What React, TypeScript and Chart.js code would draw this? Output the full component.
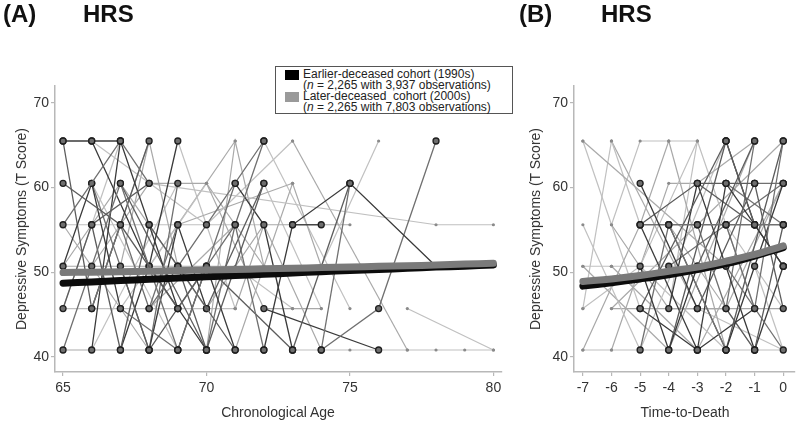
import React, { useEffect, useRef } from "react";
import { Chart, registerables } from "chart.js";

Chart.register(...registerables);

// ---------- data ----------
const scoreTicks = [40, 50, 60, 70];
const ageTicks = [65, 70, 75, 80];
const ttdTicks = [-7, -6, -5, -4, -3, -2, -1, 0];

const ageTrendX = [65, 66, 67, 68, 69, 70, 71, 72, 73, 74, 75, 76, 77, 78, 79, 80];
const ageTrendEarlier = [48.7, 48.85, 49.0, 49.15, 49.3, 49.45, 49.6, 49.75, 49.9, 50.05, 50.2, 50.3, 50.45, 50.6, 50.7, 50.85];
const ageTrendLater = [49.95, 50.0, 50.05, 50.1, 50.2, 50.25, 50.3, 50.4, 50.45, 50.55, 50.6, 50.7, 50.75, 50.85, 50.95, 51.05];

const ttdTrendX = [-7, -6, -5, -4, -3, -2, -1, 0];
const ttdTrendEarlier = [48.35, 48.75, 49.2, 49.7, 50.3, 51.0, 51.9, 52.9];
const ttdTrendLater = [48.9, 49.2, 49.6, 50.1, 50.6, 51.3, 52.1, 53.1];

type Path = [number, number][];

const agePathsEarlier: Path[] = [
  [[65, 65.5], [66, 65.5], [67, 65.5]],
  [[65, 60.5], [67, 55.6], [69, 45.7]],
  [[65, 55.6], [67, 65.5], [68, 60.5]],
  [[65, 50.7], [66, 60.5], [67, 45.7]],
  [[65, 45.7], [66, 55.6], [68, 60.5]],
  [[65, 40.8], [66, 50.7], [67, 60.5], [69, 40.8]],
  [[66, 65.5], [68, 50.7], [70, 40.8]],
  [[66, 55.6], [67, 40.8], [68, 55.6]],
  [[66, 45.7], [67, 55.6], [68, 45.7], [69, 55.6]],
  [[66, 40.8], [67, 65.5], [69, 45.7]],
  [[67, 50.7], [68, 40.8], [70, 50.7]],
  [[67, 45.7], [69, 40.8], [71, 60.5]],
  [[67, 40.8], [68, 50.7], [69, 65.5]],
  [[68, 55.6], [69, 50.7], [71, 40.8]],
  [[68, 45.7], [70, 55.6], [72, 65.5]],
  [[68, 40.8], [69, 55.6], [70, 45.7]],
  [[69, 50.7], [70, 40.8], [72, 60.5]],
  [[69, 45.7], [71, 55.6], [72, 40.8]],
  [[69, 40.8], [70, 50.7], [71, 40.8]],
  [[70, 45.7], [72, 60.5]],
  [[70, 40.8], [71, 55.6], [72, 65.5]],
  [[72, 40.8], [73, 55.6], [75, 60.5], [78, 50.7]],
  [[73, 40.8], [75, 60.5]],
  [[74, 40.8], [75, 60.5]],
  [[73, 55.6], [74, 55.6]],
  [[70, 50.7], [73, 40.8]],
  [[74, 40.8], [76, 45.7], [78, 65.5]],
  [[72, 45.7], [76, 40.8]],
  [[65, 65.5], [66, 45.7], [68, 65.5]],
  [[66, 60.5], [68, 40.8], [69, 60.5]],
  [[71, 60.5], [72, 55.6], [73, 40.8]],
  [[67, 60.5], [70, 40.8]],
];

const agePathsLater: Path[] = [
  [[66, 45.7], [68, 65.5], [69, 50.7]],
  [[66, 65.5], [70, 55.6]],
  [[66, 50.7], [68, 60.5], [70, 60.5], [72, 45.7]],
  [[68, 60.5], [78, 55.6], [80, 55.6]],
  [[70, 40.8], [71, 65.5], [72, 50.7]],
  [[70, 55.6], [73, 65.5]],
  [[69, 55.6], [73, 60.5]],
  [[74, 50.7], [76, 65.5]],
  [[72, 45.7], [73, 45.7], [74, 45.7]],
  [[77, 45.7], [80, 40.8]],
  [[73, 65.5], [77, 40.8]],
  [[73, 40.8], [75, 40.8], [77, 40.8], [78, 40.8], [79, 40.8], [80, 40.8]],
  [[71, 45.7], [72, 55.6], [75, 55.6]],
  [[65, 45.7], [67, 65.5]],
  [[65, 55.6], [68, 40.8]],
  [[66, 60.5], [69, 40.8]],
  [[67, 50.7], [68, 65.5]],
  [[67, 45.7], [70, 60.5]],
  [[68, 50.7], [71, 65.5]],
  [[69, 65.5], [71, 45.7]],
  [[70, 45.7], [72, 55.6], [74, 40.8]],
  [[71, 50.7], [73, 45.7]],
  [[71, 40.8], [73, 60.5], [74, 50.7]],
  [[72, 60.5], [74, 45.7]],
  [[65, 40.8], [67, 40.8], [70, 40.8], [72, 40.8]],
  [[65, 45.7], [69, 45.7], [71, 45.7]],
  [[65, 50.7], [70, 50.7], [72, 50.7]],
  [[65, 55.6], [70, 55.6], [72, 55.6]],
  [[65, 50.7], [67, 60.5], [70, 45.7]],
  [[66, 40.8], [69, 60.5]],
  [[68, 45.7], [71, 55.6]],
  [[72, 65.5], [75, 45.7]],
  [[70, 60.5], [72, 50.7]],
];

const ttdPathsEarlier: Path[] = [
  [[-5, 60.5], [-3, 45.7]],
  [[-5, 55.6], [-3, 60.5], [-2, 60.5], [-1, 60.5]],
  [[-5, 55.6], [-4, 55.6], [-3, 55.6], [-2, 55.6], [-1, 55.6], [0, 55.6]],
  [[-5, 50.7], [-4, 40.8], [-3, 50.7]],
  [[-5, 45.7], [-2, 65.5]],
  [[-5, 40.8], [-4, 55.6], [-2, 40.8]],
  [[-4, 45.7], [-3, 60.5], [-1, 40.8]],
  [[-4, 40.8], [-2, 65.5], [-1, 55.6]],
  [[-3, 55.6], [-2, 45.7], [-1, 65.5]],
  [[-3, 40.8], [-2, 60.5], [0, 50.7]],
  [[-3, 45.7], [-1, 60.5], [0, 45.7]],
  [[-2, 55.6], [-1, 45.7], [0, 65.5]],
  [[-2, 40.8], [-1, 50.7], [0, 60.5]],
  [[-2, 45.7], [-1, 40.8], [0, 55.6]],
  [[-2, 50.7], [0, 40.8]],
  [[-5, 55.6], [-3, 40.8]],
  [[-4, 55.6], [-2, 40.8], [0, 65.5]],
  [[-1, 60.5], [0, 60.5]],
  [[-2, 65.5], [-1, 55.6], [0, 50.7]],
  [[-3, 50.7], [-1, 65.5]],
  [[-4, 50.7], [-2, 55.6], [0, 60.5]],
  [[-1, 40.8], [0, 50.7]],
  [[-3, 60.5], [-1, 55.6]],
  [[-2, 60.5], [0, 55.6]],
  [[-5, 45.7], [-3, 40.8], [-1, 45.7]],
];

const ttdPathsLater: Path[] = [
  [[-7, 65.5], [-2, 50.7]],
  [[-6, 65.5], [-5, 55.6]],
  [[-6, 65.5], [-3, 45.7]],
  [[-6, 55.6], [-5, 65.5], [-4, 65.5], [-3, 65.5]],
  [[-4, 65.5], [-2, 40.8]],
  [[-4, 45.7], [-3, 65.5], [-1, 45.7]],
  [[-3, 60.5], [-1, 65.5]],
  [[-7, 55.6], [-5, 40.8]],
  [[-7, 50.7], [-4, 40.8]],
  [[-7, 45.7], [-6, 65.5]],
  [[-7, 40.8], [-5, 55.6], [-4, 65.5]],
  [[-6, 50.7], [-4, 50.7], [-2, 50.7]],
  [[-6, 45.7], [-5, 45.7], [-4, 45.7], [-3, 45.7], [-2, 45.7], [-1, 45.7], [0, 45.7]],
  [[-7, 40.8], [-6, 40.8], [-5, 40.8], [-3, 40.8], [-1, 40.8], [0, 40.8]],
  [[-6, 45.7], [-3, 55.6], [0, 65.5]],
  [[-5, 40.8], [-2, 65.5]],
  [[-4, 40.8], [-1, 65.5]],
  [[-5, 50.7], [-2, 40.8]],
  [[-3, 40.8], [0, 60.5]],
  [[-7, 45.7], [-5, 50.7], [-3, 65.5]],
  [[-6, 50.7], [-3, 40.8]],
  [[-2, 55.6], [0, 45.7]],
  [[-4, 55.6], [-1, 40.8]],
  [[-3, 45.7], [0, 40.8]],
  [[-2, 45.7], [0, 60.5]],
  [[-1, 50.7], [0, 40.8]],
  [[-6, 55.6], [-4, 45.7], [-2, 45.7]],
  [[-7, 65.5], [-5, 45.7]],
  [[-6, 40.8], [-4, 60.5], [-3, 60.5]],
  [[-7, 50.7], [-6, 50.7]],
];

// ---------- helpers ----------
const FONT = "'Liberation Sans', Arial, Helvetica, sans-serif";
const AXIS_GRAY = "#b8b8b8";

function buildDatasets(
  earlier: Path[],
  later: Path[],
  trendX: number[],
  trendEarlier: number[],
  trendLater: number[]
) {
  const ds: any[] = [];
  ds.push({
    data: trendX.map((x, i) => ({ x, y: trendLater[i] })),
    borderColor: "#7a7a7a",
    borderWidth: 7,
    pointRadius: 0,
    tension: 0.4,
    borderCapStyle: "round",
  });
  ds.push({
    data: trendX.map((x, i) => ({ x, y: trendEarlier[i] })),
    borderColor: "#0c0c0c",
    borderWidth: 7,
    pointRadius: 0,
    tension: 0.4,
    borderCapStyle: "round",
  });
  earlier.forEach((p, i) => {
    ds.push({
      data: p.map(([x, y]) => ({ x, y })),
      borderColor: i % 3 === 0 ? "#3a3a3a" : i % 3 === 1 ? "#5c5c5c" : "#707070",
      borderWidth: 1.3,
      pointRadius: 3,
      pointBackgroundColor: "#6e6e6e",
      pointBorderColor: "#1f1f1f",
      pointBorderWidth: 1.3,
      tension: 0,
    });
  });
  later.forEach((p, i) => {
    ds.push({
      data: p.map(([x, y]) => ({ x, y })),
      borderColor: i % 2 === 0 ? "#a9a9a9" : "#c0c0c0",
      borderWidth: 1.2,
      pointRadius: 1.6,
      pointBackgroundColor: "#8a8a8a",
      pointBorderWidth: 0,
      tension: 0,
    });
  });
  return ds;
}

function axisCommon() {
  return {
    grid: {
      drawOnChartArea: false,
      drawTicks: true,
      tickLength: 4,
      color: AXIS_GRAY,
      lineWidth: 1.2,
    },
    border: { display: true, color: AXIS_GRAY, width: 1.5 },
  };
}

function makeConfig(
  datasets: any[],
  xMin: number,
  xMax: number,
  xTicks: number[],
  yAxisWidth: number,
  padRight: number
): any {
  return {
    type: "line",
    data: { datasets },
    options: {
      responsive: false,
      animation: false,
      events: [],
      layout: { padding: { top: 86, bottom: 0, left: 0, right: padRight } },
      plugins: { legend: { display: false }, tooltip: { enabled: false } },
      scales: {
        x: {
          type: "linear",
          min: xMin,
          max: xMax,
          afterFit: (s: any) => {
            s.height = 53;
          },
          afterBuildTicks: (s: any) => {
            s.ticks = xTicks.map((v) => ({ value: v }));
          },
          ticks: {
            font: { family: FONT, size: 14 },
            color: "#333",
            padding: 4,
            maxRotation: 0,
            autoSkip: false,
            callback: (v: any) => String(v),
          },
          ...axisCommon(),
        },
        y: {
          type: "linear",
          min: 38.2,
          max: 72,
          afterFit: (s: any) => {
            s.width = yAxisWidth;
          },
          afterBuildTicks: (s: any) => {
            s.ticks = scoreTicks.map((v) => ({ value: v }));
          },
          ticks: {
            font: { family: FONT, size: 14 },
            color: "#333",
            padding: 2,
            callback: (v: any) => String(v),
          },
          ...axisCommon(),
        },
      },
    },
  };
}

const textBase: React.CSSProperties = {
  position: "absolute",
  fontFamily: FONT,
  whiteSpace: "nowrap",
  color: "#222",
};

function Centered(props: { x: number; y: number; rotate?: boolean; children: React.ReactNode }) {
  return (
    <div
      style={{
        ...textBase,
        left: props.x,
        top: props.y,
        fontSize: 14,
        lineHeight: "16px",
        color: "#333",
        transform: `translate(-50%, -50%)${props.rotate ? " rotate(-90deg)" : ""}`,
      }}
    >
      {props.children}
    </div>
  );
}

export default function App() {
  const refA = useRef<HTMLCanvasElement | null>(null);
  const refB = useRef<HTMLCanvasElement | null>(null);

  useEffect(() => {
    const chartA = new Chart(
      refA.current as HTMLCanvasElement,
      makeConfig(
        buildDatasets(agePathsEarlier, agePathsLater, ageTrendX, ageTrendEarlier, ageTrendLater),
        64.72,
        80.3,
        ageTicks,
        55,
        18
      )
    );
    const chartB = new Chart(
      refB.current as HTMLCanvasElement,
      makeConfig(
        buildDatasets(ttdPathsEarlier, ttdPathsLater, ttdTrendX, ttdTrendEarlier, ttdTrendLater),
        -7.31,
        0.4,
        ttdTicks,
        54,
        1
      )
    );
    return () => {
      chartA.destroy();
      chartB.destroy();
    };
  }, []);

  const titleStyle: React.CSSProperties = {
    ...textBase,
    top: 2,
    fontSize: 24,
    lineHeight: "24px",
    fontWeight: "bold",
    color: "#111",
  };
  const legendLine: React.CSSProperties = {
    fontSize: 12,
    lineHeight: "11px",
    height: 11,
    color: "#222",
    display: "flex",
    alignItems: "center",
  };

  return (
    <div
      style={{
        position: "absolute",
        left: 0,
        top: 0,
        width: 800,
        height: 425,
        background: "#fff",
        overflow: "hidden",
      }}
    >
      <canvas
        ref={refA}
        width={520}
        height={425}
        style={{ position: "absolute", left: 0, top: 0, width: 520, height: 425 }}
      />
      <canvas
        ref={refB}
        width={280}
        height={425}
        style={{ position: "absolute", left: 520, top: 0, width: 280, height: 425 }}
      />

      <div style={{ ...titleStyle, left: 3 }}>(A)</div>
      <div style={{ ...titleStyle, left: 83 }}>HRS</div>
      <div style={{ ...titleStyle, left: 519 }}>(B)</div>
      <div style={{ ...titleStyle, left: 601 }}>HRS</div>

      <Centered x={21} y={229} rotate>
        Depressive Symptoms (T Score)
      </Centered>
      <Centered x={535} y={229} rotate>
        Depressive Symptoms (T Score)
      </Centered>
      <Centered x={278} y={412}>Chronological Age</Centered>
      <Centered x={685} y={412}>Time-to-Death</Centered>

      <div
        style={{
          position: "absolute",
          left: 275,
          top: 66,
          width: 238,
          height: 48,
          border: "1px solid #555",
          background: "#fff",
          boxSizing: "border-box",
          fontFamily: FONT,
          padding: "2px 0 0 9px",
        }}
      >
        <div style={{ ...legendLine }}>
          <span style={{ display: "inline-block", width: 14, height: 10, background: "#000", marginRight: 4 }} />
          Earlier-deceased cohort (1990s)
        </div>
        <div style={{ ...legendLine, paddingLeft: 18 }}>
          (<i>n</i>&nbsp;= 2,265 with 3,937 observations)
        </div>
        <div style={{ ...legendLine }}>
          <span style={{ display: "inline-block", width: 14, height: 10, background: "#9a9a9a", marginRight: 4 }} />
          Later-deceased&nbsp; cohort (2000s)
        </div>
        <div style={{ ...legendLine, paddingLeft: 18 }}>
          (<i>n</i>&nbsp;= 2,265 with 7,803 observations)
        </div>
      </div>
    </div>
  );
}
